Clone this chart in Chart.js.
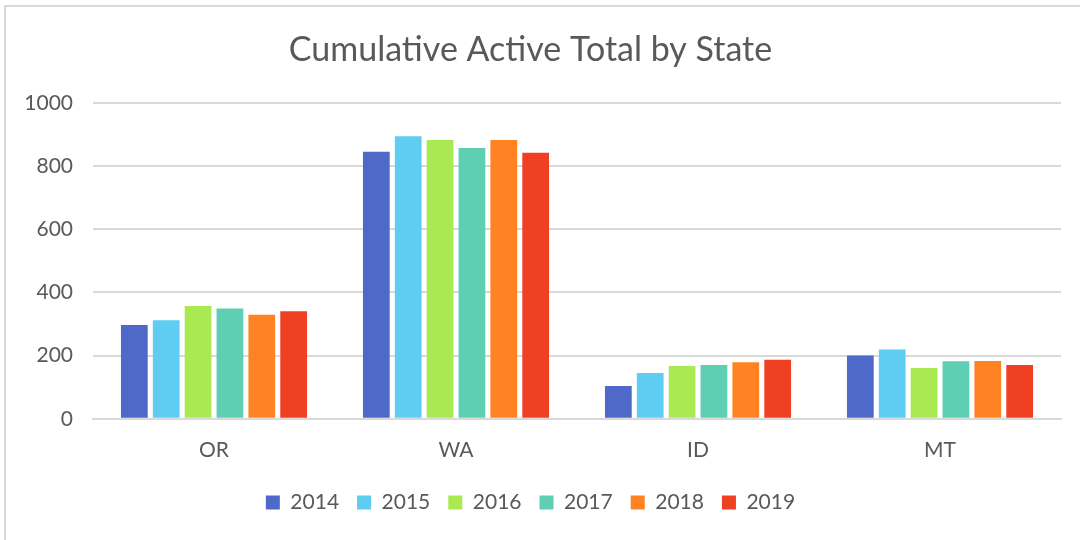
<!DOCTYPE html>
<html>
<head>
<meta charset="utf-8">
<script src="https://cdn.jsdelivr.net/npm/chart.js@4"></script>
<style>
  body { margin: 0; background: #fff; }
  #wrap { position: relative; width: 1080px; height: 540px; }
</style>
</head>
<body>
<div id="wrap"><canvas id="stateChart" width="1080" height="540"></canvas></div>
<script>
// Cumulative active totals per state, one series per year
const states = ['OR', 'WA', 'ID', 'MT'];
const years = ['2014', '2015', '2016', '2017', '2018', '2019'];
const y2014 = [297, 845, 104, 200];
const y2015 = [312, 894, 145, 219];
const y2016 = [357, 882, 167, 161];
const y2017 = [349, 857, 170, 182];
const y2018 = [329, 882, 179, 183];
const y2019 = [340, 842, 187, 170];
const yTicks = [0, 200, 400, 600, 800, 1000];
const colors = ['#4F69C9', '#5FCDF2', '#A9EA52', '#5ECFB2', '#FF8322', '#F04024'];

const series = [y2014, y2015, y2016, y2017, y2018, y2019];
const FONT = 'Lato, "Open Sans", sans-serif';

// thin frame on the left / top like the screenshot
const framePlugin = {
  id: 'frame',
  beforeDraw(chart) {
    const c = chart.ctx;
    c.save();
    c.strokeStyle = '#D9D9D9';
    c.lineWidth = 2;
    c.beginPath();
    c.moveTo(5, 540);
    c.lineTo(5, 6);
    c.lineTo(1080, 6);
    c.stroke();
    c.restore();
  }
};

document.addEventListener('DOMContentLoaded', () => {
  const ctx = document.getElementById('stateChart').getContext('2d');

  const chart = new Chart(ctx, {
    type: 'bar',
    data: {
      labels: states,
      datasets: years.map((yr, i) => ({
        label: yr,
        data: series[i],
        backgroundColor: colors[i],
        borderWidth: 0,
        barPercentage: 0.84,
        categoryPercentage: 0.79
      }))
    },
    options: {
      responsive: false,
      animation: false,
      layout: { padding: { left: 0, right: 19, top: 30, bottom: 17 } },
      plugins: {
        title: {
          display: true,
          text: 'Cumulative Active Total by State',
          color: '#595959',
          font: { family: FONT, size: 34, weight: 'normal' },
          padding: { top: 0, bottom: 32 }
        },
        legend: {
          position: 'bottom',
          labels: {
            color: '#595959',
            font: { family: FONT, size: 21 },
            boxWidth: 14,
            boxHeight: 14,
            padding: 18
          }
        },
        tooltip: { enabled: false }
      },
      scales: {
        x: {
          grid: { display: false },
          border: { color: '#D9D9D9', width: 2 },
          ticks: {
            color: '#595959',
            font: { family: FONT, size: 21 },
            padding: 11
          }
        },
        y: {
          min: 0,
          max: 1000,
          afterFit(axis) { axis.width = 93; },
          afterBuildTicks(axis) { axis.ticks = yTicks.map(v => ({ value: v })); },
          grid: { color: '#D9D9D9', lineWidth: 2, drawTicks: false },
          border: { display: false },
          ticks: {
            color: '#595959',
            font: { family: FONT, size: 21 },
            padding: 20,
            callback: v => String(v)
          }
        }
      }
    },
    plugins: [framePlugin]
  });
});
</script>
</body>
</html>
